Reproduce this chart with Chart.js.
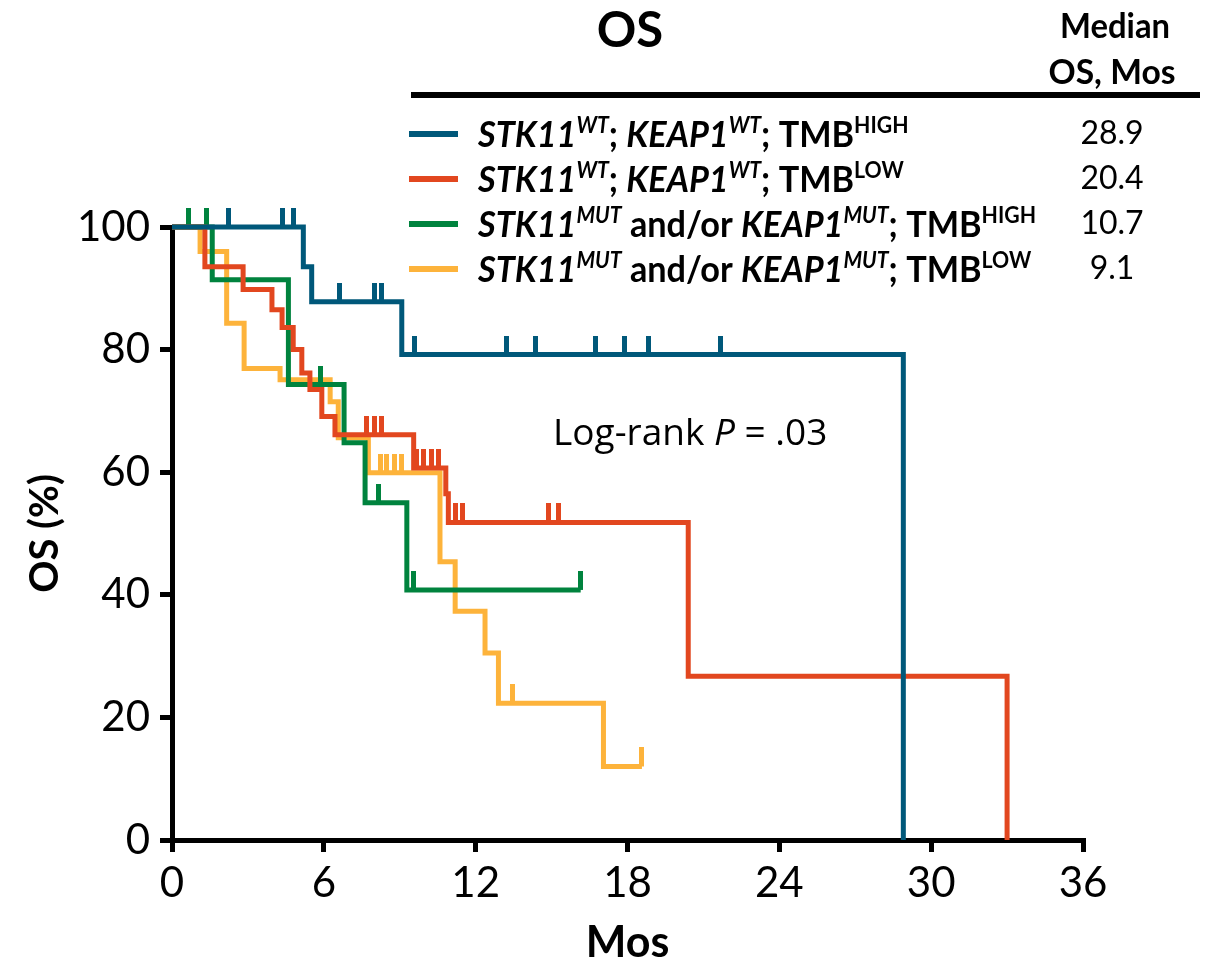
<!DOCTYPE html>
<html>
<head>
<meta charset="utf-8">
<script src="https://cdn.jsdelivr.net/npm/chart.js@4/dist/chart.umd.min.js"></script>
<style>
  html, body { margin: 0; padding: 0; background: #fff; }
  canvas { display: block; }
</style>
</head>
<body>
<canvas id="km" width="1208" height="971"></canvas>
<script>
// Kaplan–Meier overall survival by STK11/KEAP1 status and tumour mutational burden

const xTickValues = [0, 6, 12, 18, 24, 30, 36];
const yTickValues = [0, 20, 40, 60, 80, 100];

// Step curves: time (months) of each step and survival (%) after it
const wtHighTimes  = [0, 5.19, 5.52, 9.08, 28.9];
const wtHighSurv   = [100, 93.5, 87.8, 79.2, 0];
const wtHighCensor = [2.23, 4.36, 4.8, 6.6, 8.0, 8.29, 9.57, 13.2, 14.35, 16.72, 17.87, 18.83, 21.69];

const wtLowTimes  = [0, 1.3, 2.81, 3.95, 4.35, 4.79, 5.13, 5.45, 5.92, 6.44, 9.55, 10.82, 10.92, 20.4, 33.0];
const wtLowSurv   = [100, 93.5, 89.8, 86.5, 83.6, 80.0, 76.2, 73.5, 69.1, 66.1, 60.7, 56.5, 51.8, 26.7, 0];
const wtLowCensor = [7.7, 8.02, 8.29, 9.67, 9.93, 10.26, 10.53, 11.19, 11.48, 14.87, 15.27];

const mutHighTimes  = [0, 1.59, 4.6, 6.8, 7.63, 9.28, 16.15];
const mutHighSurv   = [100, 91.4, 74.3, 64.8, 55.0, 40.8, 40.8];
const mutHighCensor = [0.64, 1.37, 5.85, 8.15, 9.53, 16.15];

const mutLowTimes  = [0, 1.11, 2.16, 2.85, 4.27, 6.25, 6.57, 7.76, 10.59, 11.19, 12.37, 12.9, 17.05, 18.57];
const mutLowSurv   = [100, 96.0, 84.3, 76.9, 75.1, 71.5, 65.6, 59.9, 45.4, 37.3, 30.5, 22.3, 12.0, 12.0];
const mutLowCensor = [8.22, 8.49, 8.81, 9.08, 13.47, 18.57];

const medianOS = ['28.9', '20.4', '10.7', '9.1'];

const seriesColors = ['#00587a', '#e2471f', '#00833e', '#fdb33b'];

// Legend rows as rich-text runs (it = italic, sup = superscript)
const legendRows = [
  [{t:'STK11', it:1}, {t:'WT', it:1, sup:1}, {t:'; '}, {t:'KEAP1', it:1}, {t:'WT', it:1, sup:1}, {t:'; TMB'}, {t:'HIGH', sup:1}],
  [{t:'STK11', it:1}, {t:'WT', it:1, sup:1}, {t:'; '}, {t:'KEAP1', it:1}, {t:'WT', it:1, sup:1}, {t:'; TMB'}, {t:'LOW', sup:1}],
  [{t:'STK11', it:1}, {t:'MUT', it:1, sup:1}, {t:' and/or '}, {t:'KEAP1', it:1}, {t:'MUT', it:1, sup:1}, {t:'; TMB'}, {t:'HIGH', sup:1}],
  [{t:'STK11', it:1}, {t:'MUT', it:1, sup:1}, {t:' and/or '}, {t:'KEAP1', it:1}, {t:'MUT', it:1, sup:1}, {t:'; TMB'}, {t:'LOW', sup:1}]
];

function stepPoints(times, surv) {
  return times.map((t, i) => ({ x: t, y: surv[i] }));
}
function levelAt(times, surv, t) {
  let v = surv[0];
  for (let i = 0; i < times.length; i++) if (times[i] <= t) v = surv[i];
  return v;
}
function censorPoints(times, surv, cens) {
  return cens.map(t => ({ x: t, y: levelAt(times, surv, t) }));
}
// Censor mark: a short upright stroke rising from the curve
function censorMark(color) {
  const c = document.createElement('canvas');
  c.width = 5; c.height = 38;
  const g = c.getContext('2d');
  g.fillStyle = color;
  g.fillRect(0, 0, 5, 19);
  return c;
}

const groups = [
  [wtHighTimes, wtHighSurv, wtHighCensor],
  [wtLowTimes, wtLowSurv, wtLowCensor],
  [mutHighTimes, mutHighSurv, mutHighCensor],
  [mutLowTimes, mutLowSurv, mutLowCensor]
];

const datasets = [];
groups.forEach(([times, surv, cens], i) => {
  datasets.push({
    type: 'line',
    data: stepPoints(times, surv),
    stepped: true,
    borderColor: seriesColors[i],
    borderWidth: 5,
    borderJoinStyle: 'miter',
    borderCapStyle: 'butt',
    pointRadius: 0,
    fill: false,
    clip: false,
    order: 10 + i * 2 + 1
  });
  datasets.push({
    type: 'scatter',
    data: censorPoints(times, surv, cens),
    showLine: false,
    pointStyle: censorMark(seriesColors[i]),
    pointRadius: 6,
    clip: false,
    order: 10 + i * 2
  });
});

const TXT = '#000';

function runsWidth(ctx, runs, size) {
  let w = 0;
  for (const r of runs) {
    const fs = r.sup ? size * 0.62 : size;
    ctx.font = `${r.it ? 'italic ' : ''}bold ${fs}px Lato`;
    w += ctx.measureText(r.t).width;
  }
  return w;
}
function drawRuns(ctx, runs, x, baseline, size, sx) {
  ctx.save();
  ctx.translate(x, baseline);
  ctx.scale(sx, 1);
  let cx = 0;
  for (const r of runs) {
    const fs = r.sup ? size * 0.62 : size;
    ctx.font = `${r.it ? 'italic ' : ''}bold ${fs}px Lato`;
    ctx.fillText(r.t, cx, r.sup ? -size * 0.37 : 0);
    cx += ctx.measureText(r.t).width;
  }
  ctx.restore();
}
function drawFit(ctx, text, cx, baseline, font, width) {
  ctx.save();
  ctx.font = font;
  const w = ctx.measureText(text).width;
  const sx = width / w;
  ctx.translate(cx, baseline);
  ctx.scale(sx, 1);
  ctx.textAlign = 'center';
  ctx.fillText(text, 0, 0);
  ctx.restore();
}

const annotations = {
  id: 'annotations',
  afterDraw(chart) {
    const ctx = chart.ctx;
    ctx.save();
    ctx.fillStyle = TXT;
    ctx.textBaseline = 'alphabetic';

    // Title and median column header
    ctx.textAlign = 'center';
    ctx.font = 'bold 49px Lato';
    ctx.fillText('OS', 630, 47);
    drawFit(ctx, 'Median', 1115, 38, 'bold 34px Lato', 110);
    drawFit(ctx, 'OS, Mos', 1112, 84, 'bold 34px Lato', 127);

    // Header rule
    ctx.fillRect(411, 92, 789, 6);

    // Legend
    const rowY = [134, 179, 224, 269];
    const size = 37;
    const sx = 558 / runsWidth(ctx, legendRows[2], size);
    legendRows.forEach((runs, i) => {
      ctx.fillStyle = seriesColors[i];
      ctx.fillRect(409, rowY[i] - 3, 49, 6);
      ctx.fillStyle = TXT;
      ctx.textAlign = 'left';
      drawRuns(ctx, runs, 478, rowY[i] + 13, size, sx);
      ctx.textAlign = 'center';
      ctx.font = '32px Lato';
      ctx.fillText(medianOS[i], 1112, rowY[i] + 10);
    });

    // Log-rank test result
    ctx.textAlign = 'left';
    let x = 553;
    const by = 445;
    ctx.font = '37px "Open Sans"';
    ctx.fillText('Log-rank ', x, by);
    x += ctx.measureText('Log-rank ').width;
    ctx.font = 'italic 37px "Open Sans"';
    ctx.fillText('P', x, by);
    x += ctx.measureText('P').width;
    ctx.font = '37px "Open Sans"';
    ctx.fillText(' = .03', x, by);
    ctx.restore();
  }
};

new Chart(document.getElementById('km'), {
  type: 'line',
  data: { datasets },
  options: {
    responsive: false,
    animation: false,
    devicePixelRatio: 1,
    layout: { padding: { top: 227, right: 125, left: 0, bottom: 0 } },
    plugins: { legend: { display: false }, tooltip: { enabled: false } },
    scales: {
      x: {
        type: 'linear',
        min: 0, max: 36,
        afterBuildTicks(scale) { scale.ticks = xTickValues.map(v => ({ value: v })); },
        afterFit(scale) { scale.height = 131; },
        ticks: { color: TXT, font: { family: 'Lato', size: 42 }, padding: 6, maxRotation: 0 },
        grid: { drawOnChartArea: false, tickLength: 12, tickWidth: 5, tickColor: '#000', color: '#000', lineWidth: 5 },
        border: { display: true, color: '#000', width: 5 },
        title: { display: true, text: 'Mos', color: TXT, font: { family: 'Lato', size: 43, weight: 'bold' }, padding: { top: 0, bottom: 2 } }
      },
      y: {
        type: 'linear',
        min: 0, max: 100,
        afterBuildTicks(scale) { scale.ticks = yTickValues.map(v => ({ value: v })); },
        afterFit(scale) { scale.width = 172; },
        ticks: { color: TXT, font: { family: 'Lato', size: 42 }, padding: 10 },
        grid: { drawOnChartArea: false, tickLength: 12, tickWidth: 5, tickColor: '#000', color: '#000', lineWidth: 5 },
        border: { display: true, color: '#000', width: 5 },
        title: { display: true, text: 'OS (%)', color: TXT, font: { family: 'Lato', size: 40, weight: 'bold' }, padding: { top: 21, bottom: 0 } }
      }
    }
  },
  plugins: [annotations]
});
</script>
</body>
</html>
